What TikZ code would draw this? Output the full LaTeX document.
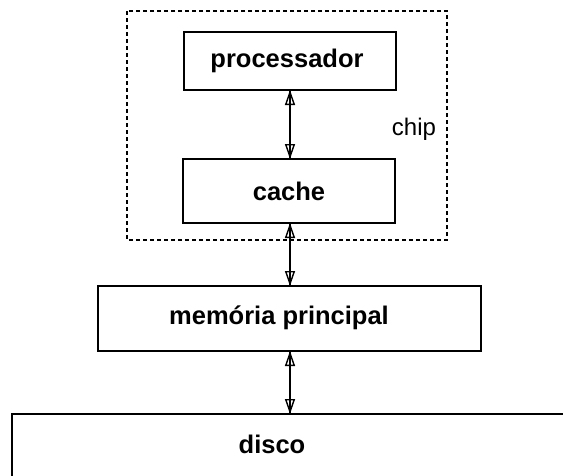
\documentclass[tikz,border=0pt]{standalone}
\usepackage{fontspec}
\setmainfont{Liberation Sans}
\usetikzlibrary{arrows.meta}
\begin{document}
\begin{tikzpicture}[x=1pt,y=-1pt,
  blockbox/.style={draw,line width=1.6pt},
  blocklabel/.style={font=\bfseries\fontsize{25.5}{28}\selectfont},
  chipframe/.style={draw,line width=1.3pt,dash pattern=on 4pt off 3pt},
  link/.style={line width=1.4pt},
  linkhead/.style={line width=1.4pt,{Triangle[open,length=15pt,width=10pt]}-{Triangle[open,length=15pt,width=10pt]}}]
  \useasboundingbox (0,0) rectangle (563,475);
  \clip (0,0) rectangle (563,475);
  % chip outline
  \draw[chipframe] (127,11) rectangle (447,240);
  \node[font=\fontsize{24}{27}\selectfont] (chip) at (414,129) {chip};
  % blocks
  \path[blockbox] (184,32) rectangle (396,90);
  \node[blocklabel] (proc) at (287,61) {processador};
  \coordinate (procB) at (290,90);
  \path[blockbox] (183,159) rectangle (395,223);
  \node[blocklabel] (cache) at (289,191) {cache};
  \coordinate (cacheT) at (290,159);
  \coordinate (cacheB) at (290,223);
  \path[blockbox] (98,286) rectangle (481,351);
  \node[blocklabel] (mem) at (279,318) {memória principal};
  \coordinate (memT) at (290,286);
  \coordinate (memB) at (290,351);
  \path[blockbox] (12,414) rectangle (580,490);
  \node[blocklabel] (disco) at (272,444) {disco};
  \coordinate (discoT) at (290,414);
  % connectors
  \foreach \a/\b in {procB/cacheT, cacheB/memT, memB/discoT}{
    \draw[link] (\a) -- (\b);
    \draw[linkhead] (\a) -- (\b);
  }
\end{tikzpicture}
\end{document}
